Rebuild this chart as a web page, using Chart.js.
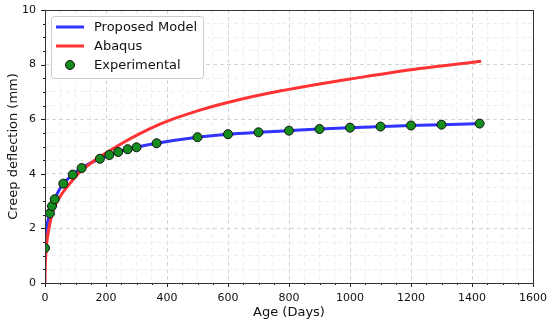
<!DOCTYPE html>
<html>
<head>
<meta charset="utf-8">
<script src="https://cdn.jsdelivr.net/npm/chart.js@4.4.1/dist/chart.umd.min.js"></script>
<style>
  html, body { margin: 0; padding: 0; background: #fff; }
  #wrap { width: 550px; height: 323px; }
</style>
</head>
<body>
<div id="wrap"><canvas id="creepChart" width="550" height="323"></canvas></div>
<script>
// experimental readings (days, mm)
const expDays = [0, 16, 23, 32, 60, 91, 120, 180, 211, 240, 271, 300, 366, 500, 600, 700, 800, 900, 1000, 1100, 1200, 1300, 1425];
const expVals = [1.28, 2.55, 2.82, 3.07, 3.64, 3.97, 4.21, 4.55, 4.69, 4.80, 4.90, 4.97, 5.12, 5.34, 5.45, 5.52, 5.58, 5.64, 5.69, 5.73, 5.77, 5.80, 5.84];

// proposed model curve
const modelDays = [0, 3, 8, 16, 23, 32, 45, 60, 91, 120, 150, 180, 240, 300, 366, 500, 600, 700, 800, 900, 1000, 1100, 1200, 1300, 1425];
const modelVals = [1.0, 1.8, 2.2, 2.55, 2.82, 3.07, 3.38, 3.64, 3.97, 4.21, 4.40, 4.55, 4.80, 4.97, 5.12, 5.34, 5.45, 5.52, 5.58, 5.64, 5.69, 5.73, 5.77, 5.80, 5.84];

// abaqus curve
const abaqusDays = [0, 0.5, 2, 5, 14, 27, 49, 82, 115, 148, 180, 250, 311, 377, 508, 639, 770, 900, 1000, 1200, 1430];
const abaqusVals = [0, 0.45, 0.9, 1.4, 2.06, 2.67, 3.16, 3.65, 4.08, 4.37, 4.62, 5.1, 5.47, 5.82, 6.33, 6.72, 7.03, 7.29, 7.47, 7.81, 8.12];

const xMajor = [0, 200, 400, 600, 800, 1000, 1200, 1400, 1600];
const yMajor = [0, 2, 4, 6, 8, 10];

const BLUE = 'rgb(51,51,255)';
const RED = 'rgb(255,51,51)';
const GREEN = 'rgb(20,140,30)';

const toXY = (xs, ys) => xs.map((x, i) => ({ x: x, y: ys[i] }));
const isMajor = (v, list) => list.some(m => Math.abs(m - v) < 1e-6);

// minor/major tick marks and the closed frame
const framePlugin = {
  id: 'frame',
  afterDraw(chart) {
    const ctx = chart.ctx, a = chart.chartArea;
    const xs = chart.scales.x, ys = chart.scales.y;
    ctx.save();
    ctx.strokeStyle = '#222';
    ctx.lineWidth = 1;
    xs.ticks.forEach(t => {
      const px = Math.round(xs.getPixelForValue(t.value)) + 0.5;
      const len = isMajor(t.value, xMajor) ? 4 : 2;
      ctx.beginPath(); ctx.moveTo(px, a.bottom); ctx.lineTo(px, a.bottom + len); ctx.stroke();
    });
    ys.ticks.forEach(t => {
      const py = Math.round(ys.getPixelForValue(t.value)) + 0.5;
      const len = isMajor(t.value, yMajor) ? 4 : 2;
      ctx.beginPath(); ctx.moveTo(a.left, py); ctx.lineTo(a.left - len, py); ctx.stroke();
    });
    ctx.strokeStyle = '#333';
    ctx.strokeRect(Math.round(a.left) + 0.5, Math.round(a.top) + 0.5, Math.round(a.right - a.left), Math.round(a.bottom - a.top));
    ctx.restore();
  }
};

// legend box in upper left, matplotlib style
const legendPlugin = {
  id: 'boxLegend',
  afterDraw(chart) {
    const ctx = chart.ctx, a = chart.chartArea;
    const bx = a.left + 6, by = a.top + 6, bw = 152, bh = 62;
    ctx.save();
    ctx.fillStyle = 'rgba(255,255,255,0.9)';
    ctx.strokeStyle = '#cccccc';
    ctx.lineWidth = 1;
    ctx.beginPath();
    ctx.roundRect(bx + 0.5, by + 0.5, bw, bh, 3);
    ctx.fill(); ctx.stroke();
    const rows = [
      { label: 'Proposed Model', kind: 'line', color: BLUE },
      { label: 'Abaqus', kind: 'line', color: RED },
      { label: 'Experimental', kind: 'dot', color: GREEN }
    ];
    ctx.font = '13px "DejaVu Sans"';
    ctx.textBaseline = 'middle';
    rows.forEach((r, i) => {
      const cy = by + 11 + i * 19;
      if (r.kind === 'line') {
        ctx.strokeStyle = r.color; ctx.lineWidth = 3;
        ctx.beginPath(); ctx.moveTo(bx + 5, cy); ctx.lineTo(bx + 33, cy); ctx.stroke();
      } else {
        ctx.fillStyle = r.color; ctx.strokeStyle = '#111'; ctx.lineWidth = 1;
        ctx.beginPath(); ctx.arc(bx + 19, cy, 4.5, 0, Math.PI * 2); ctx.fill(); ctx.stroke();
      }
      ctx.fillStyle = '#111';
      ctx.fillText(r.label, bx + 43, cy + 1);
    });
    ctx.restore();
  }
};

new Chart(document.getElementById('creepChart').getContext('2d'), {
  type: 'scatter',
  data: {
    datasets: [
      { label: 'Experimental', data: toXY(expDays, expVals), order: 0,
        pointRadius: 4.5, pointHoverRadius: 4.5, pointBackgroundColor: GREEN,
        pointBorderColor: '#111', pointBorderWidth: 1, showLine: false },
      { label: 'Abaqus', data: toXY(abaqusDays, abaqusVals), order: 1,
        showLine: true, borderColor: RED, borderWidth: 3, pointRadius: 0,
        cubicInterpolationMode: 'monotone', fill: false },
      { label: 'Proposed Model', data: toXY(modelDays, modelVals), order: 2,
        showLine: true, borderColor: BLUE, borderWidth: 3, pointRadius: 0,
        cubicInterpolationMode: 'monotone', fill: false }
    ]
  },
  options: {
    responsive: false,
    animation: false,
    layout: { padding: { top: 10, right: 17, left: 0, bottom: 0 } },
    plugins: { legend: { display: false }, tooltip: { enabled: false } },
    scales: {
      x: {
        type: 'linear', min: 0, max: 1600,
        afterFit: s => { s.height = 40; s.paddingLeft = 0; s.paddingRight = 0; },
        border: { display: false, dash: [4, 3] },
        grid: {
          drawTicks: false,
          color: c => isMajor(c.tick.value, xMajor) ? '#d4d4d4' : '#eeeeee'
        },
        ticks: {
          stepSize: 50, autoSkip: false, maxRotation: 0, padding: 9,
          color: '#111', font: { family: 'DejaVu Sans', size: 11 },
          callback: v => isMajor(v, xMajor) ? String(v) : ''
        },
        title: { display: true, text: 'Age (Days)', color: '#111',
          font: { family: 'DejaVu Sans', size: 13 }, padding: { top: 0, bottom: 3 } }
      },
      y: {
        type: 'linear', min: 0, max: 10,
        afterFit: s => { s.width = 45; s.paddingTop = 0; s.paddingBottom = 0; },
        border: { display: false, dash: [4, 3] },
        grid: {
          drawTicks: false,
          color: c => isMajor(c.tick.value, yMajor) ? '#d4d4d4' : '#eeeeee'
        },
        ticks: {
          stepSize: 0.5, autoSkip: false, padding: 9,
          color: '#111', font: { family: 'DejaVu Sans', size: 11 },
          callback: v => isMajor(v, yMajor) ? String(v) : ''
        },
        title: { display: true, text: 'Creep deflection (mm)', color: '#111',
          font: { family: 'DejaVu Sans', size: 13 }, padding: { top: 6, bottom: 0 } }
      }
    }
  },
  plugins: [framePlugin, legendPlugin]
});
</script>
</body>
</html>
